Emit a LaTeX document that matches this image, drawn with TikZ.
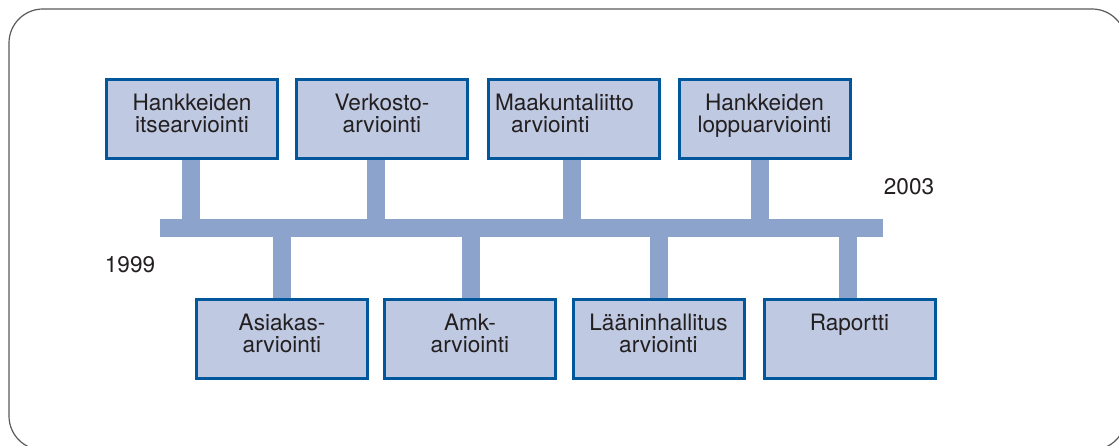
\documentclass[tikz,border=0pt]{standalone}
\usepackage{fontspec}
\setmainfont{TeX Gyre Heros}
\definecolor{boxfill}{RGB}{191,201,226}
\definecolor{boxline}{RGB}{0,87,155}
\definecolor{barblue}{RGB}{140,164,204}
\definecolor{ink}{RGB}{35,31,32}
\tikzset{
  box/.style={draw=boxline,line width=3pt,fill=boxfill,anchor=north,
    text width=171pt,inner xsep=0pt,inner ysep=0pt,
    text height=31pt,text depth=48pt,align=center,
    text=ink,font=\fontsize{22.6}{22.4}\selectfont},
  stem/.style={barblue,line width=18pt},
  year/.style={text=ink,font=\fontsize{22.6}{22.4}\selectfont},
  frame/.style={draw=black!65,line width=1.2pt}
}
\begin{document}
\begin{tikzpicture}[x=1pt,y=-1pt]
  \useasboundingbox (0,0) rectangle (1119,446);
  \clip (0,0) rectangle (1119,446);
  \draw [frame,rounded corners=34] (9,9) rectangle (1126,450);
  % time axis
  \coordinate (axL) at (160,228);
  \coordinate (axR) at (883,228);
  \draw [stem] (axL) -- (axR);
  \node (y99) [year] at (130,265) {1999};
  \node (y03) [year] at (909,187) {2003};
  % upper boxes
  \node (itse) [box] at (192,78) {Hankkeiden\\itsearviointi};
  \node (verk) [box] at (382,78) {Verkosto-\\arviointi};
  \node (maak) [box,align=left] at (573.5,78) {\hspace*{7pt}Maakuntaliitto\\\hspace*{23pt}arviointi};
  \node (lopp) [box] at (764.5,78) {Hankkeiden\\loppuarviointi};
  % lower boxes
  \node (asia) [box] at (282,298) {Asiakas-\\arviointi};
  \node (amk) [box] at (470,298) {Amk-\\arviointi};
  \node (laan) [box] at (658.5,298) {Lääninhallitus\\arviointi};
  \node (rap) [box] at (849.5,298) {Raportti\\\mbox{}};
  % stems
  \foreach \b/\dx in {itse/-1,verk/-6,maak/-1.5,lopp/-4.5}
    \draw [stem] ([xshift=\dx pt]\b.south) -- ([xshift=\dx pt]\b.south |- axL);
  \foreach \b/\dx in {asia/0,amk/1,laan/0.5,rap/-1.5}
    \draw [stem] ([xshift=\dx pt]\b.north) -- ([xshift=\dx pt]\b.north |- axL);
\end{tikzpicture}
\end{document}
